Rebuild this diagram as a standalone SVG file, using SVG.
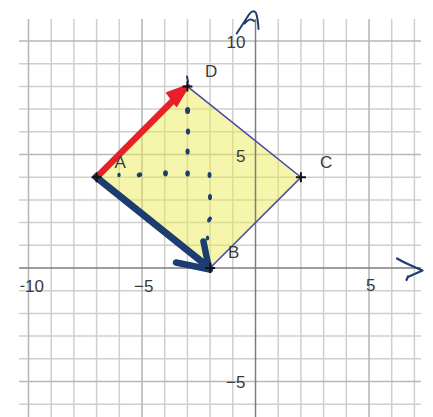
<svg xmlns="http://www.w3.org/2000/svg" width="433" height="417" viewBox="0 0 433 417">
<style>
.grid{stroke:#cfcfcf;stroke-width:1.5;fill:none}
.major{stroke:#b8b8b8;stroke-width:1.6;fill:none}
.axis{stroke:#7d7d7d;stroke-width:1.5;fill:none}
.lbl{font-family:"Liberation Sans",Arial,sans-serif;font-size:17px;fill:#3a3a3a}
.pt{stroke:#111;stroke-width:2;fill:none}
.ink{stroke:#1d3c70;fill:none;stroke-linecap:round;stroke-linejoin:round}
.dot{fill:#1d3c70}
</style>
<defs>
<clipPath id="gridclip"><rect x="20.5" y="0" width="414" height="417"/></clipPath>
</defs>
<rect width="433" height="417" fill="#ffffff"/>
<g id="grid">
<path class="grid" d="M51.2 19V417M73.9 19V417M96.6 19V417M119.3 19V417M164.7 19V417M187.4 19V417M210.1 19V417M232.8 19V417M278.2 19V417M300.9 19V417M323.6 19V417M346.3 19V417M391.7 19V417M414.4 19V417"/>
<path class="grid" d="M19 63.7H421M19 86.4H421M19 109.1H421M19 131.8H421M19 177.2H421M19 199.9H421M19 222.6H421M19 245.3H421M19 290.7H421M19 313.4H421M19 336.1H421M19 358.8H421M19 404.2H421"/>
<path class="major" d="M28.5 19V417M142 19V417M369 19V417M19 41H421M19 154.5H421M19 381.5H421"/>
</g>
<g id="polygon">
<polygon points="96.6,177.2 187.4,86.4 300.9,177.2 210.1,268" fill="#eaea50" fill-opacity="0.48"/>
</g>
<g id="axes">
<path class="axis" d="M255.5 19V417M19 268H421"/>
</g>
<g id="tick-labels">
<text class="lbl" x="44" y="292" text-anchor="end" clip-path="url(#gridclip)">−10</text>
<text class="lbl" x="153.5" y="292" text-anchor="end">−5</text>
<text class="lbl" x="375.5" y="291" text-anchor="end">5</text>
<text class="lbl" x="245.5" y="48" text-anchor="end">10</text>
<text class="lbl" x="245.5" y="161.5" text-anchor="end">5</text>
<text class="lbl" x="245.5" y="388" text-anchor="end">−5</text>
</g>
<g id="connectors">
<path d="M187.4 86.4L300.9 177.2L210.1 268" stroke="#4a4aa8" stroke-width="1.6" fill="none"/>
<line x1="96.6" y1="177.2" x2="177" y2="96.5" stroke="#e8202a" stroke-width="6.5" stroke-linecap="round"/>
<polygon points="189,85 176.5,106 167,93" fill="#e8202a" stroke="#e8202a" stroke-width="2" stroke-linejoin="round"/>
<line class="ink" x1="96" y1="177" x2="209" y2="267.5" stroke-width="7"/>
<path class="ink" d="M176 262.5L210 269.5M203.5 241.5Q206 255 209.5 269.5" stroke-width="6.5"/>
<path class="ink" d="M187 76.5L188 82" stroke-width="2"/>
</g>
<g id="dots">
<ellipse class="dot" cx="187.6" cy="110.5" rx="2.5" ry="3.6"/>
<ellipse class="dot" cx="188" cy="131.5" rx="2.1" ry="3.1"/>
<ellipse class="dot" cx="187.6" cy="151.5" rx="2.1" ry="3.1"/>
<ellipse class="dot" cx="187.6" cy="173.5" rx="2.3" ry="3.1"/>
<ellipse class="dot" cx="119" cy="175" rx="1.7" ry="2.3"/>
<ellipse class="dot" cx="139.5" cy="174.8" rx="2.8" ry="2.3" transform="rotate(-30 139.5 174.8)"/>
<ellipse class="dot" cx="165.5" cy="173.3" rx="2.4" ry="3.1"/>
<ellipse class="dot" cx="209.5" cy="175" rx="2" ry="2.9"/>
<ellipse class="dot" cx="210" cy="197" rx="2" ry="3.1"/>
<ellipse class="dot" cx="209.5" cy="219.5" rx="2" ry="3.1" transform="rotate(30 209.5 219.5)"/>
<ellipse class="dot" cx="207.5" cy="238" rx="1.7" ry="2.5"/>
</g>
<g id="point-A"><path class="pt" d="M91.6 177.2H101.6M96.6 172.2V182.2"/><text class="lbl" x="114.5" y="168">A</text></g>
<g id="point-B"><path class="pt" d="M205.1 268H215.1M210.1 263V273"/><text class="lbl" x="228" y="258">B</text></g>
<g id="point-C"><path class="pt" d="M295.9 177.2H305.9M300.9 172.2V182.2"/><text class="lbl" x="320" y="168">C</text></g>
<g id="point-D"><path class="pt" d="M182.4 86.4H192.4M187.4 81.4V91.4"/><text class="lbl" x="205" y="76.5">D</text></g>
<g id="axis-arrows">
<path class="ink" d="M236.7 33.5L249 14.5Q253 9 256 13Q258 19 258.5 29M244.5 23.5Q250 17 254 21" stroke-width="2"/>
<path class="ink" d="M397 258.5Q403 262 410 265L422.5 270.5L409 276.5M408 276.5L406.5 280" stroke-width="2.2"/>
</g>
</svg>
